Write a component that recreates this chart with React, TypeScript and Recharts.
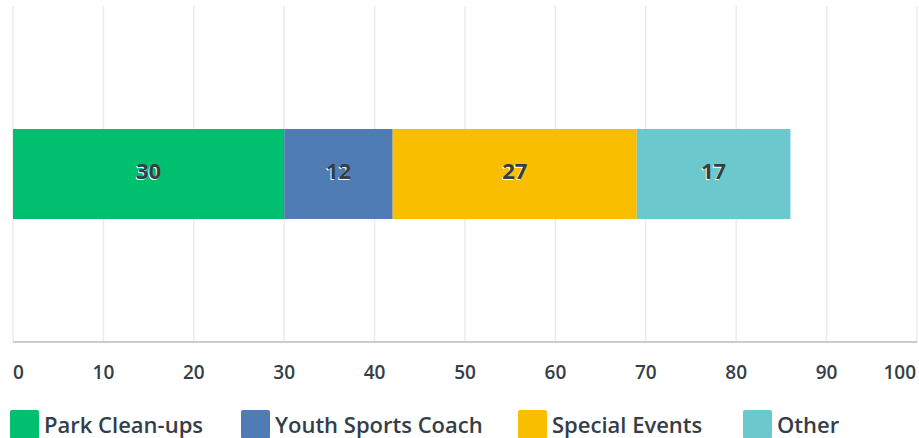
import React from "react";
import {
  BarChart,
  Bar,
  XAxis,
  YAxis,
  CartesianGrid,
  LabelList
} from "recharts";

const categories = ["Volunteer roles"];
const seriesNames = ["Park Clean-ups", "Youth Sports Coach", "Special Events", "Other"];
const seriesKeys = ["park", "youth", "events", "other"];
const seriesValues = [30, 12, 27, 17];
const seriesColors = ["#00bf6f", "#507cb6", "#f9be00", "#6bc8cd"];
const xTicks = [0, 10, 20, 30, 40, 50, 60, 70, 80, 90, 100];

const data = categories.map((name) => {
  const row: Record<string, string | number> = { name };
  seriesKeys.forEach((k, i) => {
    row[k] = seriesValues[i];
  });
  return row;
});

const textColor = "#333e48";
const font = "'Open Sans', sans-serif";

function XTick(props: any) {
  const { x, y, payload } = props;
  const v = payload.value;
  const anchor = v === 0 ? "start" : v === 100 ? "end" : "middle";
  const dx = v === 0 ? 0 : v === 100 ? -1 : 0;
  return (
    <text
      x={x + dx}
      y={y + 30}
      textAnchor={anchor}
      dominantBaseline="middle"
      fill={textColor}
      fontFamily={font}
      fontSize={19}
      fontWeight={600}
    >
      {v}
    </text>
  );
}

function BarValue(props: any) {
  const { x, y, width, height, value } = props;
  const cx = x + width / 2;
  const cy = y + height / 2 - 1;
  const common = {
    textAnchor: "middle" as const,
    dominantBaseline: "middle" as const,
    fontFamily: font,
    fontSize: 22,
    fontWeight: 700
  };
  return (
    <g>
      <text x={cx - 1} y={cy + 1} fill="#ffffff" {...common}>
        {value}
      </text>
      <text x={cx} y={cy} fill={textColor} {...common}>
        {value}
      </text>
    </g>
  );
}

const legendPos = [10, 241, 518, 743];

export default function App() {
  return (
    <div style={{ position: "absolute", left: 0, top: 0, width: 919, height: 438 }}>
      <BarChart
        width={919}
        height={438}
        data={data}
        layout="vertical"
        margin={{ top: 6, right: 2, left: 13, bottom: 36 }}
      >
        <CartesianGrid horizontal={false} stroke="#ececec" strokeWidth={1.5} />
        <XAxis
          type="number"
          domain={[0, 100]}
          ticks={xTicks}
          tick={<XTick />}
          tickLine={false}
          tickSize={0}
          height={60}
          axisLine={{ stroke: "#cccccc", strokeWidth: 2 }}
          interval={0}
        />
        <YAxis
          type="category"
          dataKey="name"
          width={0}
          tick={false}
          tickLine={false}
          axisLine={{ stroke: "#cccccc", strokeWidth: 2 }}
        />
        {seriesKeys.map((k, i) => (
          <Bar
            key={k}
            dataKey={k}
            name={seriesNames[i]}
            stackId="a"
            fill={seriesColors[i]}
            barSize={90}
            isAnimationActive={false}
          >
            <LabelList dataKey={k} content={<BarValue />} />
          </Bar>
        ))}
      </BarChart>
      {seriesNames.map((n, i) => (
        <div
          key={n}
          style={{
            position: "absolute",
            left: legendPos[i],
            top: 410,
            display: "flex",
            alignItems: "center",
            fontFamily: font,
            fontSize: 22,
            fontWeight: 600,
            color: textColor,
            whiteSpace: "nowrap"
          }}
        >
          <span
            style={{
              display: "inline-block",
              width: 29,
              height: 29,
              borderRadius: 2,
              background: seriesColors[i],
              marginRight: 5
            }}
          />
          <span style={{ lineHeight: "25px" }}>{n}</span>
        </div>
      ))}
    </div>
  );
}
